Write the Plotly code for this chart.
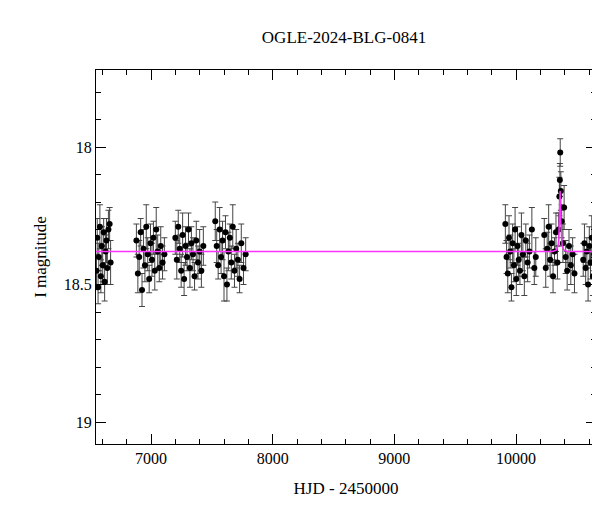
import plotly.graph_objects as go

# observing seasons (HJD - 2450000), I magnitudes and errors
hjd = [
    6552, 6558, 6565, 6571, 6580, 6588, 6596, 6603, 6611, 6619, 6627, 6634, 6641, 6650, 6660, 6668,
    6880, 6892, 6903, 6915, 6926, 6938, 6950, 6961, 6973, 6985, 6996, 7008, 7020, 7031, 7043, 7055, 7068, 7080, 7095, 7110,
    7200, 7212, 7224, 7236, 7248, 7260, 7272, 7284, 7296, 7308, 7320, 7332, 7345, 7358, 7372, 7386, 7400, 7414, 7430,
    7528, 7540, 7552, 7564, 7576, 7588, 7600, 7612, 7624, 7636, 7648, 7660, 7672, 7686, 7700, 7714, 7728, 7742, 7760, 7778,
    9912, 9922, 9932, 9942, 9952, 9962, 9972, 9982, 9992, 10002, 10012, 10022, 10032, 10044, 10056, 10068, 10080, 10095, 10110, 10130, 10150, 10162,
    10232, 10244, 10256, 10268, 10280, 10292, 10304, 10316, 10328, 10340, 10350, 10356, 10360, 10363, 10368, 10375, 10385, 10395, 10408, 10420, 10435, 10450, 10465, 10480,
    10552, 10562, 10572, 10582, 10592, 10602, 10612, 10622, 10632, 10642, 10652,
]
mag = [
    18.45, 18.33, 18.51, 18.40, 18.29, 18.47, 18.36, 18.43, 18.31, 18.49, 18.38, 18.34, 18.44, 18.30, 18.28, 18.42,
    18.34, 18.46, 18.40, 18.31, 18.52, 18.37, 18.43, 18.29, 18.39, 18.48, 18.35, 18.41, 18.33, 18.45, 18.30, 18.38, 18.44, 18.36, 18.42, 18.39,
    18.33, 18.41, 18.29, 18.37, 18.45, 18.32, 18.48, 18.36, 18.40, 18.30, 18.44, 18.35, 18.39, 18.47, 18.34, 18.42, 18.38, 18.45, 18.36,
    18.27, 18.36, 18.43, 18.30, 18.40, 18.34, 18.47, 18.31, 18.50, 18.38, 18.33, 18.42, 18.29, 18.45, 18.37, 18.41, 18.48, 18.35, 18.44, 18.39,
    18.28, 18.40, 18.46, 18.33, 18.38, 18.51, 18.35, 18.43, 18.30, 18.48, 18.36, 18.41, 18.45, 18.32, 18.39, 18.47, 18.34, 18.42, 18.38, 18.30, 18.44, 18.40,
    18.32, 18.44, 18.37, 18.29, 18.41, 18.35, 18.47, 18.38, 18.31, 18.42, 18.30, 18.18, 18.12, 18.02, 18.16, 18.27, 18.35, 18.22, 18.40, 18.45, 18.36, 18.43, 18.39, 18.46,
    18.41, 18.35, 18.44, 18.38, 18.50, 18.36, 18.42, 18.33, 18.47, 18.39, 18.37,
]
err = [
    0.06, 0.07, 0.06, 0.05, 0.08, 0.06, 0.07, 0.06, 0.05, 0.07, 0.06, 0.08, 0.06, 0.07, 0.06, 0.08,
    0.06, 0.07, 0.06, 0.05, 0.06, 0.07, 0.06, 0.08, 0.06, 0.05, 0.07, 0.06, 0.06, 0.07, 0.08, 0.06, 0.05, 0.07, 0.06, 0.06,
    0.06, 0.07, 0.06, 0.05, 0.06, 0.08, 0.06, 0.07, 0.05, 0.06, 0.07, 0.06, 0.06, 0.05, 0.07, 0.06, 0.08, 0.06, 0.07,
    0.07, 0.06, 0.05, 0.08, 0.06, 0.07, 0.09, 0.06, 0.06, 0.07, 0.05, 0.06, 0.08, 0.06, 0.07, 0.06, 0.05, 0.07, 0.06, 0.06,
    0.07, 0.06, 0.07, 0.08, 0.06, 0.05, 0.07, 0.06, 0.08, 0.06, 0.07, 0.06, 0.05, 0.08, 0.06, 0.07, 0.06, 0.07, 0.06, 0.08, 0.06, 0.07,
    0.06, 0.07, 0.06, 0.08, 0.06, 0.07, 0.06, 0.05, 0.07, 0.06, 0.06, 0.07, 0.06, 0.05, 0.07, 0.06, 0.07, 0.08, 0.06, 0.07, 0.06, 0.07, 0.06, 0.07,
    0.06, 0.07, 0.06, 0.05, 0.06, 0.07, 0.06, 0.08, 0.07, 0.06, 0.06,
]

# microlensing model curve
model_t = [6300, 10300, 10330, 10345, 10352, 10357, 10360, 10362, 10364, 10367, 10372, 10379, 10394, 10425, 10800]
model_mag = [18.38, 18.38, 18.375, 18.36, 18.33, 18.27, 18.21, 18.16, 18.21, 18.27, 18.33, 18.36, 18.375, 18.38, 18.38]

# tick labels
x_ticks = [7000, 8000, 9000, 10000]
x_labels = ['7000', '8000', '9000', '10000']
y_ticks = [18, 18.5, 19]
y_labels = ['18', '18.5', '19']

font = "Liberation Serif"

fig = go.Figure()
fig.add_trace(go.Scatter(
    x=hjd, y=mag, mode='markers',
    marker=dict(size=6, color='black'),
    error_y=dict(type='data', array=err, color='#444444', thickness=1, width=3),
    showlegend=False,
))
fig.add_trace(go.Scatter(
    x=model_t, y=model_mag, mode='lines',
    line=dict(color='#ff33ff', width=1.5),
    showlegend=False,
))

axis_common = dict(
    showgrid=False, zeroline=False, mirror='allticks', showline=True,
    linecolor='black', linewidth=1, ticks='inside', ticklen=10,
    tickcolor='black', tickfont=dict(family=font, size=16, color='black'),
    automargin=False,
)
fig.update_xaxes(
    range=[6548, 10657], tickvals=x_ticks, ticktext=x_labels,
    minor=dict(dtick=200, tick0=0, ticklen=5, ticks='inside', tickcolor='black'),
    title=dict(text='HJD - 2450000', font=dict(family=font, size=17, color='black')),
    **axis_common,
)
fig.update_yaxes(
    range=[19.08, 17.72], tickvals=y_ticks, ticktext=y_labels,
    minor=dict(dtick=0.1, tick0=0, ticklen=5, ticks='inside', tickcolor='black'),
    title=dict(text='I magnitude', font=dict(family=font, size=17, color='black'), standoff=12),
    **axis_common,
)
fig.update_layout(
    width=600, height=512,
    margin=dict(l=88, r=12, t=62, b=76),
    plot_bgcolor='white', paper_bgcolor='white',
    title=dict(text='OGLE-2024-BLG-0841', x=0.56, xanchor='center', y=0.955,
               font=dict(family=font, size=17, color='black')),
)

fig.write_html("out.html")
